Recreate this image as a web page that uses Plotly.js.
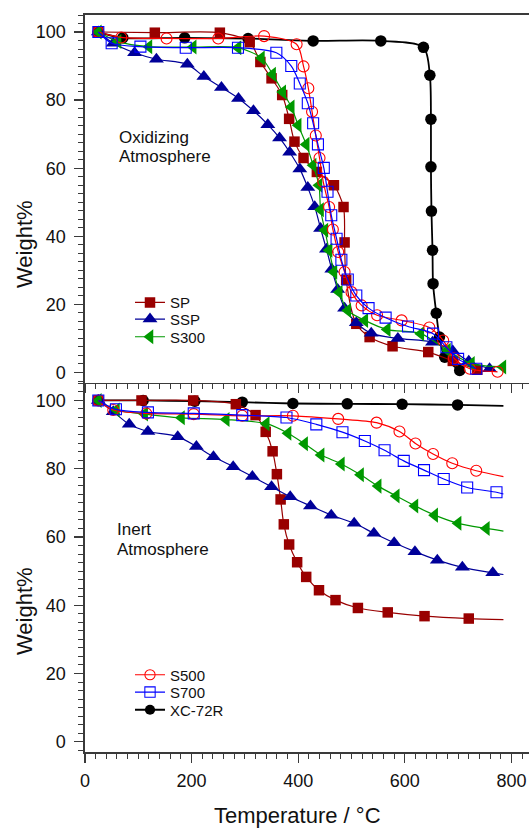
<!DOCTYPE html>
<html><head><meta charset="utf-8">
<script src="https://cdn.plot.ly/plotly-3.0.1.min.js"></script>
<style>html,body{margin:0;padding:0;background:#fff}#chart{width:529px;height:829px}</style>
</head><body><div id="chart"></div>
<script>
// ---------- Oxidizing atmosphere (top panel) ----------
const oxT_SP  = [25, 131, 253, 309, 329, 350, 370, 383, 393, 410, 435, 467, 485, 487, 490, 509, 534, 577, 644, 690, 736];
const oxW_SP  = [100, 99.8, 99.8, 97.0, 91.2, 86.4, 81.5, 74.5, 67.8, 63.0, 58.9, 55.0, 48.6, 38.2, 27.2, 14.3, 10.4, 7.7, 6.0, 3.4, 0.8];
const oxT_SSP = [25, 53, 93, 134, 192, 223, 256, 288, 316, 343, 365, 384, 403, 418, 431, 442, 453, 463, 474, 487, 509, 537, 587, 652, 690, 720, 759];
const oxW_SSP = [100, 96.7, 93.9, 92.0, 90.5, 86.9, 83.7, 80.5, 76.9, 72.8, 68.9, 64.7, 59.8, 54.3, 48.7, 42.3, 36.2, 30.3, 24.4, 18.9, 14.6, 11.5, 10.0, 8.9, 6.3, 3.3, 1.1];
const oxT_S300 = [25, 62, 120, 203, 287, 331, 352, 371, 387, 400, 415, 428, 439, 442, 450, 458, 467, 477, 493, 525, 567, 630, 680, 725, 784];
const oxW_S300 = [100, 97.2, 95.7, 95.6, 95.4, 92.4, 87.6, 82.4, 78.0, 72.6, 67.0, 60.9, 55.0, 47.8, 41.8, 35.9, 29.5, 23.6, 18.2, 15.3, 12.6, 11.4, 6.5, 2.6, 1.6];
const oxT_S500 = [25, 68, 153, 250, 336, 397, 410, 419, 426, 433, 440, 447, 458, 465, 475, 487, 500, 519, 548, 594, 646, 672, 692, 722, 774];
const oxW_S500 = [100, 98.4, 98.1, 98.1, 98.8, 96.4, 89.9, 83.5, 76.6, 69.6, 63.0, 56.0, 48.6, 42.0, 35.4, 29.5, 23.6, 19.7, 16.8, 15.3, 13.2, 9.4, 4.2, 1.1, 0.2];
const oxT_S700 = [25, 50, 104, 189, 287, 359, 387, 403, 418, 428, 437, 448, 455, 462, 472, 481, 493, 509, 532, 564, 606, 653, 678, 700, 734];
const oxW_S700 = [100, 96.7, 95.7, 95.4, 95.4, 93.9, 90.0, 84.9, 79.1, 73.2, 67.0, 60.1, 53.1, 46.2, 39.3, 33.1, 27.3, 22.6, 18.9, 16.1, 13.5, 11.4, 7.4, 4.0, 1.1];
const oxT_XC  = [25, 71, 187, 306, 428, 555, 635, 647, 649, 649, 650, 652, 653, 659, 665, 675, 703];
const oxW_XC  = [100, 98.3, 98.3, 98.1, 97.4, 97.4, 95.5, 87.3, 74.4, 60.4, 47.4, 35.9, 26.1, 17.4, 10.4, 4.5, 0.6];

// ---------- Inert atmosphere (bottom panel) ----------
const inT_SP  = [25, 106, 203, 283, 320, 339, 352, 360, 367, 373, 383, 398, 415, 439, 470, 512, 568, 637, 720];
const inW_SP  = [100, 100, 100, 98.9, 95.7, 90.8, 85.1, 78.4, 71.0, 63.7, 57.8, 52.6, 48.3, 44.4, 41.5, 39.2, 37.9, 36.8, 36.1];
const inT_SSP = [25, 53, 83, 118, 174, 209, 241, 278, 314, 350, 385, 423, 462, 505, 542, 580, 619, 661, 708, 765];
const inW_SSP = [100, 96.7, 93.0, 90.9, 89.4, 86.5, 83.5, 80.6, 77.7, 74.7, 71.8, 69.1, 66.4, 64.0, 61.1, 58.3, 55.7, 53.2, 51.1, 49.5];
const inT_S300 = [25, 59, 112, 181, 265, 340, 381, 412, 443, 481, 517, 550, 584, 619, 656, 700, 753];
const inW_S300 = [100, 97.2, 96.0, 94.9, 94.4, 93.2, 90.4, 87.3, 84.0, 81.4, 78.2, 74.9, 72.0, 69.1, 66.4, 64.0, 62.5];
const inT_S500 = [25, 53, 115, 204, 295, 390, 475, 547, 590, 620, 653, 689, 734];
const inW_S500 = [100, 97.2, 96.2, 96.0, 95.5, 95.5, 94.6, 93.5, 90.9, 87.4, 84.3, 81.6, 79.4];
const inT_S700 = [25, 58, 118, 204, 295, 378, 434, 483, 525, 562, 598, 636, 673, 717, 772];
const inW_S700 = [100, 97.4, 96.5, 96.2, 95.7, 95.0, 93.0, 90.7, 88.1, 85.4, 82.3, 79.6, 77.0, 74.5, 73.1];
const inT_XC  = [25, 109, 206, 295, 390, 492, 595, 699];
const inW_XC  = [100, 100, 99.8, 99.5, 99.1, 99.0, 98.9, 98.7];
// fitted-curve end values (curves continue past last marker, inert panel)
const inEndT = 785;
const inEndW_SP = 35.8, inEndW_SSP = 49.0, inEndW_S300 = 61.7, inEndW_S500 = 77.7, inEndW_S700 = 72.6, inEndW_XC = 98.4;

const seriesNames = ['SP', 'SSP', 'S300', 'S500', 'S700', 'XC-72R'];
const axisTicksX = [0, 200, 400, 600, 800];
const axisTicksY = [0, 20, 40, 60, 80, 100];

// ---------- styling / layout ----------
const FONT = '"Liberation Sans", Arial, Helvetica, sans-serif';
const W = 529, H = 829;
const M = {l: 85, r: 0, t: 15, b: 77};
const PW = W - M.l - M.r, PH = H - M.t - M.b;
const px2x = px => (px - M.l) / PW;
const px2y = py => (H - M.b - py) / PH;
const splitY = px2y(382.7);

const styles = {
  'SP':     {color: '#990000', symbol: 'square',        size: 10.5, lw: 0,   width: 1.2, legend: 'legend',  row: 302.7},
  'SSP':    {color: '#000099', symbol: 'triangle-up',   size: 13,   lw: 0,   width: 1.2, legend: 'legend2', row: 319.3},
  'S300':   {color: '#009900', symbol: 'triangle-left', size: 13,   lw: 0,   width: 1.2, legend: 'legend3', row: 337.0},
  'S500':   {color: '#ff0000', symbol: 'circle-open',   size: 11,   lw: 1.1, width: 1.2, legend: 'legend4', row: 675.0},
  'S700':   {color: '#0000ff', symbol: 'square-open',   size: 11,   lw: 1.1, width: 1.2, legend: 'legend5', row: 692.3},
  'XC-72R': {color: '#000000', symbol: 'circle',        size: 11.5, lw: 0,   width: 1.8, legend: 'legend6', row: 710.0}
};

function makeTrace(name, xs, ys, xa, ya, showLegend, endT, endW) {
  const s = styles[name];
  const n = xs.length;
  const x = endT !== undefined ? xs.concat([endT]) : xs.slice();
  const y = endT !== undefined ? ys.concat([endW]) : ys.slice();
  const sizes = x.map((_, i) => i < n ? s.size : 0);
  const lws = x.map((_, i) => i < n ? s.lw : 0);
  return {
    type: 'scatter', mode: 'lines+markers', name: name,
    x: x, y: y, xaxis: xa, yaxis: ya,
    legend: s.legend, showlegend: showLegend,
    line: {color: s.color, width: s.width, shape: 'spline', smoothing: 0.8},
    marker: {symbol: s.symbol, size: sizes, color: s.color, opacity: 1,
             line: {color: s.color, width: lws}},
    cliponaxis: false
  };
}

const traces = [
  makeTrace('XC-72R', oxT_XC, oxW_XC, 'x2', 'y2', false),
  makeTrace('SP', oxT_SP, oxW_SP, 'x2', 'y2', true),
  makeTrace('SSP', oxT_SSP, oxW_SSP, 'x2', 'y2', true),
  makeTrace('S300', oxT_S300, oxW_S300, 'x2', 'y2', true),
  makeTrace('S500', oxT_S500, oxW_S500, 'x2', 'y2', false),
  makeTrace('S700', oxT_S700, oxW_S700, 'x2', 'y2', false),

  makeTrace('XC-72R', inT_XC, inW_XC, 'x', 'y', true, inEndT, inEndW_XC),
  makeTrace('SP', inT_SP, inW_SP, 'x', 'y', false, inEndT, inEndW_SP),
  makeTrace('SSP', inT_SSP, inW_SSP, 'x', 'y', false, inEndT, inEndW_SSP),
  makeTrace('S300', inT_S300, inW_S300, 'x', 'y', false, inEndT, inEndW_S300),
  makeTrace('S500', inT_S500, inW_S500, 'x', 'y', true, inEndT, inEndW_S500),
  makeTrace('S700', inT_S700, inW_S700, 'x', 'y', true, inEndT, inEndW_S700)
];

const AXC = '#3a3a3a';
const xCommon = {
  range: [0, 833], tickmode: 'array', tickvals: axisTicksX,
  ticks: 'outside', ticklen: 9, tickwidth: 1.3, tickcolor: AXC,
  minor: {dtick: 20, tick0: 0, ticks: 'outside', ticklen: 5, tickwidth: 1, tickcolor: AXC},
  showline: true, linecolor: AXC, linewidth: 1.6,
  showgrid: false, zeroline: false,
  ticklabelstandoff: 3,
  tickfont: {family: FONT, size: 18, color: '#111'}
};
const yCommon = {
  tickmode: 'array', tickvals: axisTicksY,
  ticks: 'outside', ticklen: 9, tickwidth: 1.3, tickcolor: AXC,
  minor: {dtick: 2.5, tick0: 0, ticks: 'outside', ticklen: 5, tickwidth: 1, tickcolor: AXC},
  showline: true, linecolor: AXC, linewidth: 1.6,
  showgrid: false, zeroline: false,
  ticklabelstandoff: 5,
  tickfont: {family: FONT, size: 18, color: '#111'}
};

const layout = {
  width: W, height: H,
  margin: M,
  paper_bgcolor: '#fff', plot_bgcolor: '#fff',
  font: {family: FONT, color: '#111'},
  xaxis: Object.assign({}, xCommon, {domain: [0, 1], anchor: 'y'}),
  xaxis2: Object.assign({}, xCommon, {domain: [0, 1], anchor: 'y2', matches: 'x', showticklabels: false, mirror: true}),
  yaxis: Object.assign({}, yCommon, {domain: [0, splitY], range: [-3, 105.2]}),
  yaxis2: Object.assign({}, yCommon, {domain: [splitY, 1], range: [-3, 105]}),
  annotations: [
    {text: 'Weight%', xref: 'paper', yref: 'paper', x: px2x(24), y: px2y(244), textangle: -90,
     showarrow: false, font: {family: FONT, size: 22, color: '#111'}, xanchor: 'center', yanchor: 'middle'},
    {text: 'Weight%', xref: 'paper', yref: 'paper', x: px2x(24), y: px2y(611), textangle: -90,
     showarrow: false, font: {family: FONT, size: 22, color: '#111'}, xanchor: 'center', yanchor: 'middle'},
    {text: 'Temperature / °C', xref: 'paper', yref: 'paper', x: px2x(297), y: px2y(815),
     showarrow: false, font: {family: FONT, size: 22, color: '#111'}, xanchor: 'center', yanchor: 'middle'},
    {text: 'Oxidizing', xref: 'paper', yref: 'paper', x: px2x(117), y: px2y(137),
     showarrow: false, font: {family: FONT, size: 17, color: '#111'}, xanchor: 'left', yanchor: 'middle'},
    {text: 'Atmosphere', xref: 'paper', yref: 'paper', x: px2x(117), y: px2y(156),
     showarrow: false, font: {family: FONT, size: 17, color: '#111'}, xanchor: 'left', yanchor: 'middle'},
    {text: 'Inert', xref: 'paper', yref: 'paper', x: px2x(115), y: px2y(529.5),
     showarrow: false, font: {family: FONT, size: 17, color: '#111'}, xanchor: 'left', yanchor: 'middle'},
    {text: 'Atmosphere', xref: 'paper', yref: 'paper', x: px2x(115), y: px2y(549),
     showarrow: false, font: {family: FONT, size: 17, color: '#111'}, xanchor: 'left', yanchor: 'middle'}
  ],
  showlegend: true
};

// one single-entry legend per series so row spacing matches the original
seriesNames.forEach(nm => {
  const s = styles[nm];
  layout[s.legend] = {
    x: px2x(130), y: px2y(s.row - 16.5), xanchor: 'left', yanchor: 'top',
    bgcolor: 'rgba(0,0,0,0)', borderwidth: 0,
    font: {family: FONT, size: 15, color: '#111'}
  };
});

Plotly.newPlot('chart', traces, layout, {displayModeBar: false, staticPlot: true});
</script>
</body></html>
